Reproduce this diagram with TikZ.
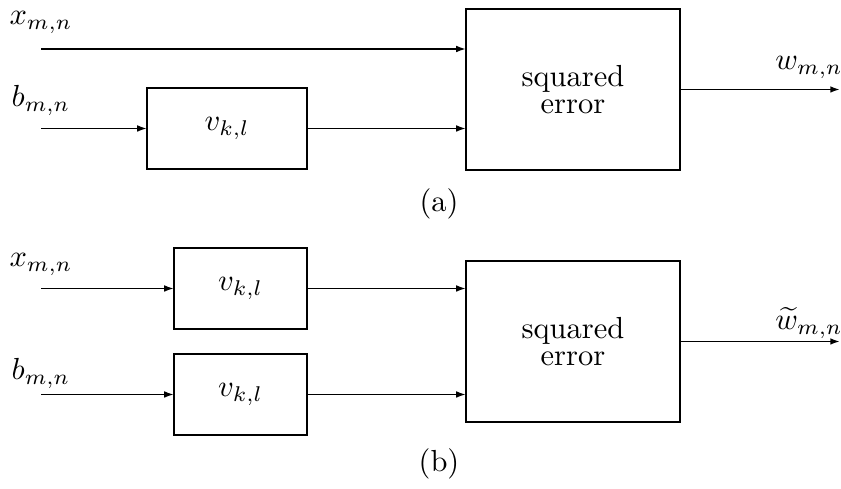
\documentclass[tikz,border=0pt]{standalone}
\usetikzlibrary{arrows.meta}
\def\px{0.328pt}
\begin{document}
\begin{tikzpicture}[x=\px, y=-\px,
  block/.style={draw, line width=0.6pt, inner sep=0pt, outer sep=0pt, align=center},
  sig/.style={line width=0.6pt, -{Latex[length=3.2pt,width=2.2pt]}},
  lbl/.style={anchor=base, inner sep=0pt}]
  \useasboundingbox (0,0) rectangle (841,489);

  % ---------- (a) ----------
  \node[block, minimum width=214*\px, minimum height=161*\px] (sqa) at (573,89.5) {squared\\[-3.4pt]error};
  \node[block, minimum width=160*\px, minimum height=81*\px] (va) at (227,128.5) {$v_{k,l}$};
  \coordinate (xa) at (41,49);
  \coordinate (ba) at (41,128.5);
  \coordinate (wa) at (840,89.5);
  \draw[sig] (xa) -- (xa -| sqa.west);
  \draw[sig] (ba) -- (va.west);
  \draw[sig] (va.east) -- (va.east -| sqa.west);
  \draw[sig] (sqa.east) -- (wa);
  \node[lbl] (lxa) at (41,25) {$x_{m,n}$};
  \node[lbl] (lba) at (41,107) {$b_{m,n}$};
  \node[lbl] (lwa) at (809,70) {$w_{m,n}$};
  \node[lbl] (capa) at (439,212) {(a)};

  % ---------- (b) ----------
  \node[block, minimum width=214*\px, minimum height=161*\px] (sqb) at (573,341.5) {squared\\[-3.4pt]error};
  \node[block, minimum width=133*\px, minimum height=81*\px] (vb1) at (240.5,288.5) {$v_{k,l}$};
  \node[block, minimum width=133*\px, minimum height=81*\px] (vb2) at (240.5,394.5) {$v_{k,l}$};
  \coordinate (xb) at (41,288.5);
  \coordinate (bb) at (41,394.5);
  \coordinate (wb) at (840,341.5);
  \draw[sig] (xb) -- (vb1.west);
  \draw[sig] (bb) -- (vb2.west);
  \draw[sig] (vb1.east) -- (vb1.east -| sqb.west);
  \draw[sig] (vb2.east) -- (vb2.east -| sqb.west);
  \draw[sig] (sqb.east) -- (wb);
  \node[lbl] (lxb) at (41,267) {$x_{m,n}$};
  \node[lbl] (lbb) at (41,380) {$b_{m,n}$};
  \node[lbl] (lwb) at (809,330) {$\widetilde{w}_{m,n}$};
  \node[lbl] (capb) at (439,472) {(b)};
\end{tikzpicture}
\end{document}
